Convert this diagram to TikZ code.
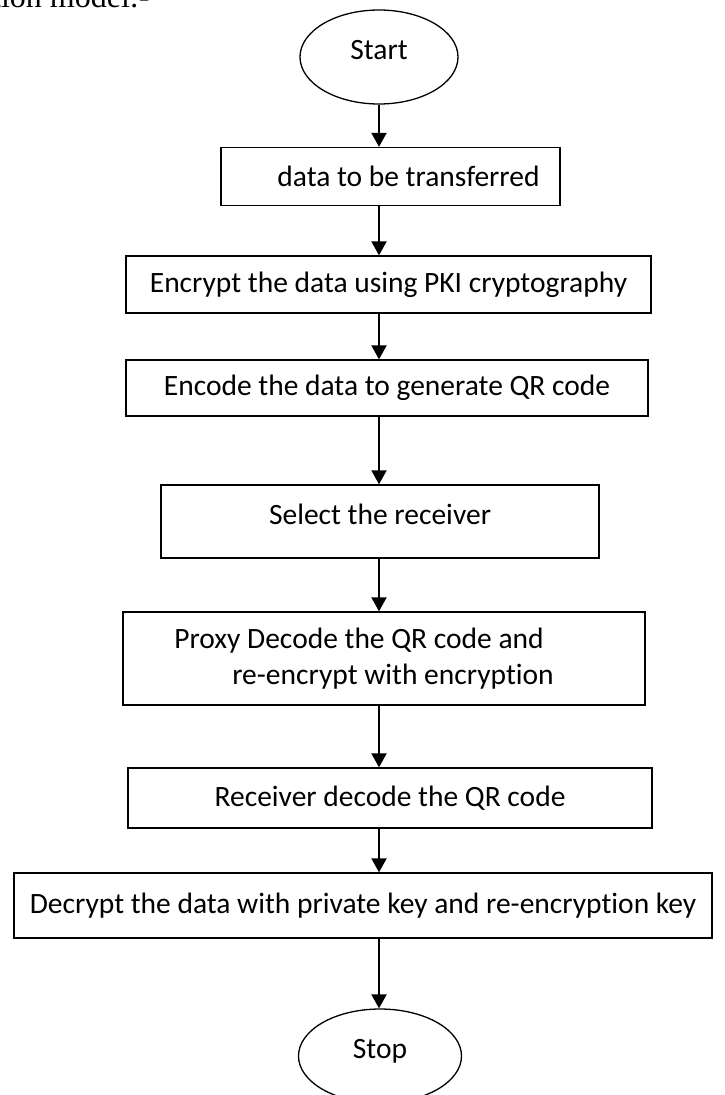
\documentclass[tikz,border=0pt]{standalone}
\usepackage{fontspec}
\setmainfont{Carlito}[Ligatures=NoCommon]
\newfontfamily\timesfont{Liberation Serif}
\usetikzlibrary{arrows.meta,shapes.geometric}
\begin{document}
\begin{tikzpicture}[x=1pt,y=-1pt,
  txt/.style={font=\fontsize{29.5}{36}\selectfont},
  box/.style={draw, line width=1.4pt, rectangle, inner sep=0pt, txt},
  term/.style={draw, line width=1.3pt, ellipse, inner sep=0pt, txt,
    text height=21pt, text depth=16pt},
  flow/.style={line width=2.2pt, -{Triangle[width=15pt,length=14pt]}}]
\clip (0,0) rectangle (725,1095);
\fill[white] (0,0) rectangle (725,1095);
\node[anchor=base west, inner sep=0pt, font=\timesfont\fontsize{32}{32}\selectfont] (cap) at (-8,7.5) {tion model:-};
\coordinate (axis) at (379,0);
\node[term, minimum width=158pt, minimum height=94pt] (start) at (379,57) {Start};
\node[box, minimum width=339pt, minimum height=58pt] (b1) at (390.5,176.5) {\hspace*{36pt}data to be transferred};
\node[box, minimum width=525pt, minimum height=57pt] (b2) at (388.5,284.5) {Encrypt the data using PKI cryptography};
\node[box, minimum width=522pt, minimum height=56pt] (b3) at (387,388) {Encode the data to generate QR code};
\node[box, minimum width=438pt, minimum height=73pt, text height=21pt, text depth=16pt] (b4) at (380,521.5) {Select the receiver};
\node[box, minimum width=522pt, minimum height=93pt, align=left] (b5) at (384,658.5) {Proxy Decode the QR code and\\\hspace*{58pt}re-encrypt with encryption\hspace*{40pt}};
\node[box, minimum width=524pt, minimum height=60pt] (b6) at (390,798) {Receiver decode the QR code};
\node[box, minimum width=698pt, minimum height=65pt] (b7) at (363,905.5) {Decrypt the data with private key and re-encryption key};
\node[term, minimum width=163pt, minimum height=94pt] (stop) at (380,1056) {Stop};
\draw[flow] (axis |- start.south) -- (axis |- b1.north);
\draw[flow] (axis |- b1.south) -- (axis |- b2.north);
\draw[flow] (axis |- b2.south) -- (axis |- b3.north);
\draw[flow] (axis |- b3.south) -- (axis |- b4.north);
\draw[flow] (axis |- b4.south) -- (axis |- b5.north);
\draw[flow] (axis |- b5.south) -- (axis |- b6.north);
\draw[flow] (axis |- b6.south) -- (axis |- b7.north);
\draw[flow] (axis |- b7.south) -- (axis |- stop.north);
\end{tikzpicture}
\end{document}
